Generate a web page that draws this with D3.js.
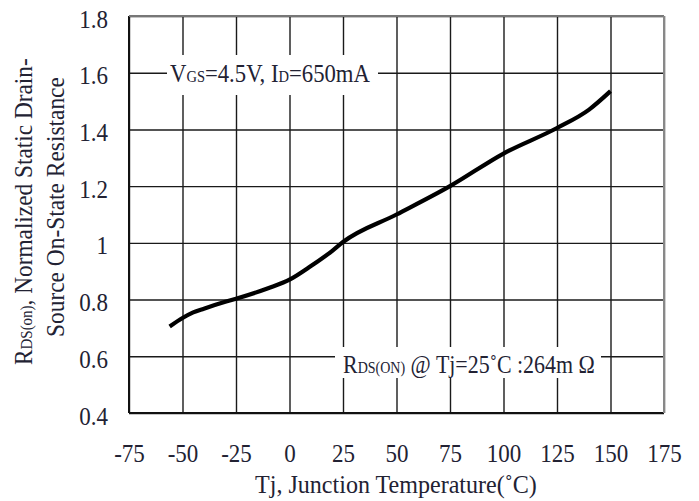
<!DOCTYPE html>
<html>
<head>
<meta charset="utf-8">
<script src="https://cdn.jsdelivr.net/npm/d3@7"></script>
<style>
  html, body { margin: 0; padding: 0; background: #fff; }
  svg { display: block; }
  text { font-family: "Liberation Serif", "Times New Roman", serif; fill: #222233; }
</style>
</head>
<body>
<svg id="chart" width="699" height="501"></svg>
<script>
// ---- data ----
const temps = [-56, -50, -45, -40, -30, -25, -10, 0, 10, 20, 25, 50, 75, 100, 125, 140, 150];
const rdsNorm = [0.705, 0.735, 0.755, 0.768, 0.792, 0.803, 0.84, 0.87, 0.918, 0.972, 1.003, 1.10, 1.20, 1.315, 1.405, 1.47, 1.535];
const xTicks = [-75, -50, -25, 0, 25, 50, 75, 100, 125, 150, 175];
const yTicks = [0.4, 0.6, 0.8, 1.0, 1.2, 1.4, 1.6, 1.8];
const yTickLabels = ["0.4", "0.6", "0.8", "1", "1.2", "1.4", "1.6", "1.8"];

(function () {
const svg = d3.select("#chart");
const pL = 129, pR = 664, pT = 16, pB = 413;
const x = d3.scaleLinear().domain([-75, 175]).range([pL, pR]);
const y = d3.scaleLinear().domain([0.4, 1.8]).range([pB, pT]);
const FS = 25, SX = 0.92, SUB = 16;

// gridlines + x labels
const xAxis = d3.axisBottom(x).tickValues(xTicks).tickSizeInner(-(pB - pT)).tickSizeOuter(0).tickPadding(31).tickFormat(d => String(d));
const gx = svg.append("g").attr("transform", `translate(0,${pB})`).call(xAxis);
gx.select(".domain").remove();
gx.selectAll(".tick line").attr("stroke", "#1a1a1a").attr("stroke-width", 1.4);
gx.selectAll(".tick text").attr("font-size", FS).attr("fill", "#222233")
  .attr("transform", `scale(${SX},1)`).style("font-family", '"Liberation Serif", serif');

const yAxis = d3.axisLeft(y).tickValues(yTicks).tickSizeInner(-(pR - pL)).tickSizeOuter(0).tickPadding(21 / SX).tickFormat((d, i) => yTickLabels[i]);
const gy = svg.append("g").attr("transform", `translate(${pL},0)`).call(yAxis);
gy.select(".domain").remove();
gy.selectAll(".tick line").attr("stroke", "#1a1a1a").attr("stroke-width", 1.4);
gy.selectAll(".tick text").attr("font-size", FS).attr("dy", "0.44em").attr("fill", "#222233")
  .attr("transform", `scale(${SX},1)`).style("font-family", '"Liberation Serif", serif');

// frame
svg.append("line").attr("x1", pL).attr("x2", pL).attr("y1", pT).attr("y2", pB).attr("stroke", "#111").attr("stroke-width", 2);
svg.append("line").attr("x1", pL).attr("x2", pR).attr("y1", pB).attr("y2", pB).attr("stroke", "#111").attr("stroke-width", 2);
svg.append("line").attr("x1", pL).attr("x2", pR).attr("y1", pT).attr("y2", pT).attr("stroke", "#777").attr("stroke-width", 2);
svg.append("line").attr("x1", pR).attr("x2", pR).attr("y1", pT).attr("y2", pB).attr("stroke", "#888").attr("stroke-width", 2);

// label helper: text placed at (px,py), optionally rotated, horizontally scaled to a target width
function label(px, py, rot) {
  const g = svg.append("g").attr("transform", `translate(${px},${py})` + (rot ? ` rotate(${rot})` : ""));
  const t = g.append("text").attr("font-size", FS);
  return { g, t };
}
function fit(l, w) {
  const cur = l.t.node().getComputedTextLength();
  l.t.attr("transform", `scale(${w / cur},1)`);
}

// annotation 1 (white box)
svg.append("rect").attr("x", 167).attr("y", 55).attr("width", 211).attr("height", 40).attr("fill", "#fff");
const a1 = label(170, 82);
a1.t.append("tspan").text("V");
a1.t.append("tspan").attr("font-size", SUB).text("GS");
a1.t.append("tspan").text("=4.5V, I");
a1.t.append("tspan").attr("font-size", SUB).text("D");
a1.t.append("tspan").text("=650mA");
fit(a1, 200);

// annotation 2
svg.append("rect").attr("x", 335).attr("y", 347).attr("width", 266).attr("height", 31).attr("fill", "#fff");
const a2 = label(343, 373);
a2.t.append("tspan").text("R");
a2.t.append("tspan").attr("font-size", SUB).text("DS(ON)");
a2.t.append("tspan").text(" @  Tj=25˚C :264m Ω");
fit(a2, 252);

// data line
const line = d3.line().x((d, i) => x(temps[i])).y(d => y(d)).curve(d3.curveMonotoneX);
svg.append("path").datum(rdsNorm).attr("d", line).attr("fill", "none").attr("stroke", "#000").attr("stroke-width", 4.2).attr("stroke-linecap", "butt");

// axis titles
const xt = label(255, 493);
xt.t.text("Tj, Junction Temperature(˚C)");
fit(xt, 282);

const yt1 = label(32, 365, -90);
yt1.t.append("tspan").text("R");
yt1.t.append("tspan").attr("font-size", SUB).text("DS(on)");
yt1.t.append("tspan").text(", Normalized Static Drain-");
fit(yt1, 307);
const yt2 = label(64, 337, -90);
yt2.t.text("Source On-State Resistance");
fit(yt2, 260);
})();
</script>
</body>
</html>
